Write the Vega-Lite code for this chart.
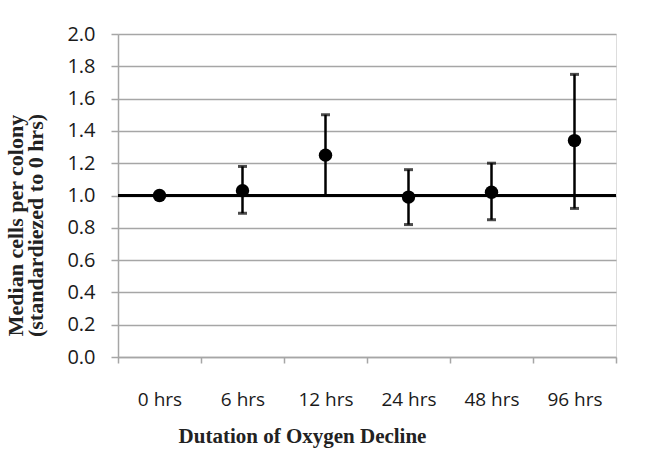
{
  "$schema": "https://vega.github.io/schema/vega-lite/v6.json",
  "width": 498,
  "height": 323,
  "autosize": {"type": "none"},
  "padding": {"left": 118, "top": 34, "right": 35, "bottom": 98},
  "background": "white",
  "config": {
    "axisX": {
      "labelAngle": 0,
      "labelFont": "Open Sans",
      "labelFontSize": 19,
      "labelColor": "#1a1a1a",
      "labelPadding": 27,
      "tickBand": "extent",
      "tickSize": 6,
      "tickColor": "#a6a6a6",
      "tickWidth": 1.5,
      "domainColor": "#a6a6a6",
      "domainWidth": 1.5,
      "grid": false,
      "titleFont": "Liberation Serif",
      "titleFontWeight": "bold",
      "titleFontSize": 21,
      "titleColor": "#222222",
      "titleX": 184,
      "titleY": 85,
      "titleBaseline": "alphabetic",
      "titleAnchor": "middle"
    },
    "axisY": {
      "labelOverlap": false,
      "tickCount": 20,
      "labelFont": "Open Sans",
      "labelFontSize": 20,
      "labelColor": "#1a1a1a",
      "labelPadding": 16,
      "tickSize": 7,
      "tickColor": "#a6a6a6",
      "tickWidth": 1.5,
      "domainColor": "#a6a6a6",
      "domainWidth": 1.5,
      "grid": true,
      "gridColor": "#a6a6a6",
      "gridWidth": 1.5,
      "titleFont": "Liberation Serif",
      "titleFontWeight": "bold",
      "titleFontSize": 22,
      "titleColor": "#222222",
      "titleLineHeight": 20,
      "titleAngle": -90,
      "titleX": -103,
      "titleY": 191,
      "titleAlign": "center",
      "titleBaseline": "middle"
    }
  },
  "data": {
    "values": [
      {"t": "0 hrs", "v": 1.0, "lo": null, "hi": null},
      {"t": "6 hrs", "v": 1.03, "lo": 0.89, "hi": 1.18},
      {"t": "12 hrs", "v": 1.25, "lo": 1.0, "hi": 1.5},
      {"t": "24 hrs", "v": 0.99, "lo": 0.82, "hi": 1.16},
      {"t": "48 hrs", "v": 1.02, "lo": 0.85, "hi": 1.2},
      {"t": "96 hrs", "v": 1.34, "lo": 0.92, "hi": 1.75}
    ]
  },
  "encoding": {
    "x": {
      "field": "t",
      "type": "nominal",
      "sort": ["0 hrs", "6 hrs", "12 hrs", "24 hrs", "48 hrs", "96 hrs"],
      "scale": {"paddingInner": 0, "paddingOuter": 0},
      "title": "Dutation of Oxygen Decline"
    }
  },
  "layer": [
    {
      "mark": {"type": "rule", "color": "black", "strokeWidth": 2.5},
      "encoding": {
        "y": {
          "field": "lo",
          "type": "quantitative",
          "scale": {"domain": [0, 2]},
          "title": ["Median cells per colony", "(standardiezed to 0 hrs)"],
          "axis": {"values": [0, 0.2, 0.4, 0.6, 0.8, 1.0, 1.2, 1.4, 1.6, 1.8, 2.0], "format": ".1f", "tickCount": 20, "labelPadding": 16}
        },
        "y2": {"field": "hi"}
      }
    },
    {
      "mark": {"type": "rule", "color": "black", "strokeWidth": 3},
      "encoding": {"x": null, "y": {"datum": 1}}
    },
    {
      "mark": {"type": "tick", "color": "black", "size": 9, "thickness": 3, "orient": "horizontal"},
      "encoding": {"y": {"field": "lo", "type": "quantitative"}}
    },
    {
      "mark": {"type": "tick", "color": "black", "size": 9, "thickness": 3, "orient": "horizontal"},
      "encoding": {"y": {"field": "hi", "type": "quantitative"}}
    },
    {
      "mark": {"type": "point", "shape": "circle", "filled": true, "color": "black", "opacity": 1, "size": 180},
      "encoding": {"y": {"field": "v", "type": "quantitative"}}
    }
  ]
}
